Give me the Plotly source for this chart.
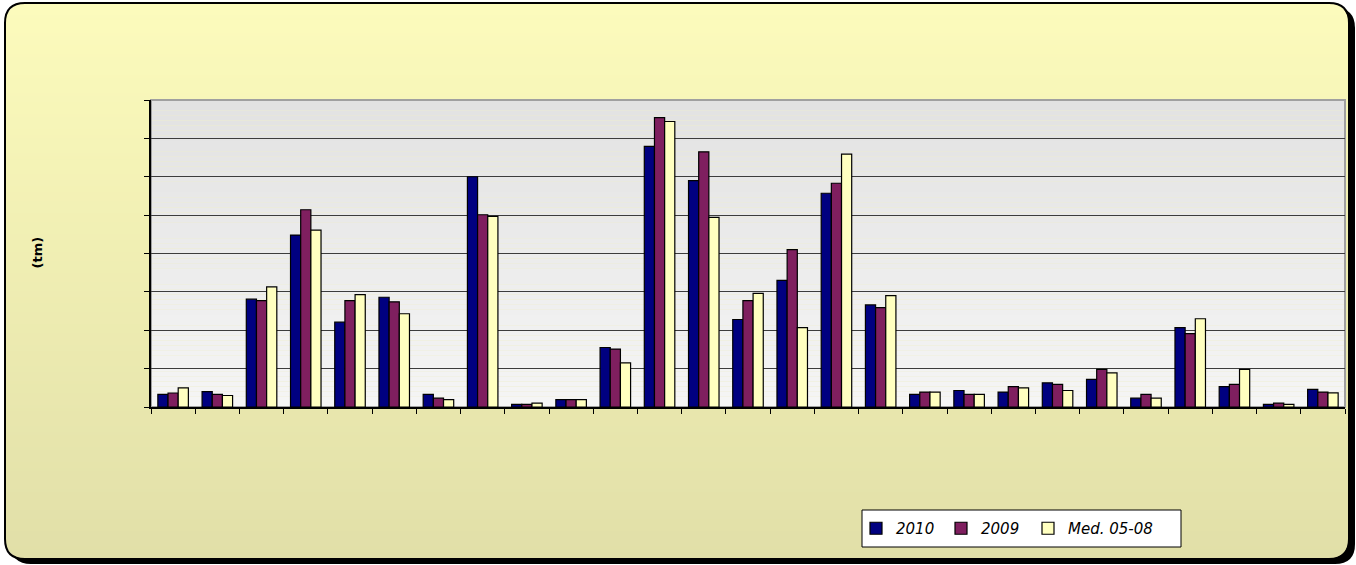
import math
import plotly.graph_objects as go

# ---------------- data ----------------
categories = [str(i) for i in range(1, 28)]
series_names = ["2010", "2009", "Med. 05-08"]
v2010 = [0.33, 0.40, 2.81, 4.48, 2.21, 2.86, 0.33, 6.00, 0.07, 0.19, 1.55, 6.79, 5.90, 2.28,
         3.30, 5.57, 2.66, 0.33, 0.43, 0.39, 0.63, 0.72, 0.23, 2.07, 0.53, 0.07, 0.46]
v2009 = [0.365, 0.33, 2.77, 5.14, 2.77, 2.74, 0.23, 5.01, 0.07, 0.19, 1.51, 7.54, 6.65, 2.77,
         4.10, 5.83, 2.59, 0.39, 0.33, 0.53, 0.59, 0.98, 0.33, 1.91, 0.59, 0.10, 0.39]
vmed = [0.50, 0.30, 3.13, 4.61, 2.93, 2.43, 0.19, 4.97, 0.10, 0.19, 1.15, 7.44, 4.94, 2.96,
        2.07, 6.59, 2.90, 0.39, 0.33, 0.50, 0.43, 0.89, 0.23, 2.30, 0.98, 0.07, 0.37]
y_ticks = [0, 1, 2, 3, 4, 5, 6, 7, 8]
y_title = "(tm)"

# ---------------- layout helpers ----------------
W, H = 1356, 565
PX0, PX1, PY0, PY1 = 151, 1345, 100, 407  # plot area in pixels


def px(x):
    return x / W


def py(y):
    return 1 - y / H


def lerp_col(c0, c1, t):
    return "rgb(%d,%d,%d)" % tuple(round(a + (b - a) * t) for a, b in zip(c0, c1))


def round_rect_path(x0, y0, x1, y1, r):
    pts = [
        f"M{px(x0 + r)},{py(y0)}",
        f"L{px(x1 - r)},{py(y0)}",
        f"Q{px(x1)},{py(y0)} {px(x1)},{py(y0 + r)}",
        f"L{px(x1)},{py(y1 - r)}",
        f"Q{px(x1)},{py(y1)} {px(x1 - r)},{py(y1)}",
        f"L{px(x0 + r)},{py(y1)}",
        f"Q{px(x0)},{py(y1)} {px(x0)},{py(y1 - r)}",
        f"L{px(x0)},{py(y0 + r)}",
        f"Q{px(x0)},{py(y0)} {px(x0 + r)},{py(y0)}",
        "Z",
    ]
    return " ".join(pts)


def x_extent(y, x0, y0, x1, y1, r):
    if y < y0 + r:
        d = (y0 + r) - y
    elif y > y1 - r:
        d = y - (y1 - r)
    else:
        return x0, x1
    d = min(d, r)
    off = r - math.sqrt(max(r * r - d * d, 0))
    return x0 + off, x1 - off


shapes = []
FX0, FY0, FX1, FY1, R = 5, 3, 1349, 559, 20

# shadow
shapes.append(dict(type="path", xref="paper", yref="paper", layer="below",
                   path=round_rect_path(FX0 + 6, FY0 + 5, FX1 + 6, FY1 + 5, R),
                   fillcolor="black", line=dict(width=0)))

# background gradient bands clipped to rounded rect
top_c, bot_c = (252, 251, 188), (225, 223, 168)
step = 3
y = FY0
while y < FY1:
    y2 = min(y + step, FY1)
    t = (y - FY0) / (FY1 - FY0)
    left, right = [], []
    yy = y
    while True:
        a, b = x_extent(yy, FX0, FY0, FX1, FY1, R)
        left.append((a, yy))
        right.append((b, yy))
        if yy >= y2:
            break
        yy = min(yy + 1, y2)
    poly = left + right[::-1]
    path = "M" + " L".join(f"{px(a)},{py(b)}" for a, b in poly) + " Z"
    shapes.append(dict(type="path", xref="paper", yref="paper", layer="below",
                       path=path, fillcolor=lerp_col(top_c, bot_c, t),
                       line=dict(width=0)))
    y = y2

# frame border
shapes.append(dict(type="path", xref="paper", yref="paper", layer="below",
                   path=round_rect_path(FX0, FY0, FX1, FY1, R),
                   fillcolor="rgba(0,0,0,0)", line=dict(color="black", width=2)))

# plot area gradient
p_top, p_bot = (226, 226, 226), (245, 245, 245)
nb = 60
for i in range(nb):
    ya = PY0 + (PY1 - PY0) * i / nb
    yb = PY0 + (PY1 - PY0) * (i + 1) / nb
    shapes.append(dict(type="rect", xref="paper", yref="paper", layer="below",
                       x0=px(PX0), x1=px(PX1), y0=py(yb), y1=py(ya),
                       fillcolor=lerp_col(p_top, p_bot, i / (nb - 1)),
                       line=dict(width=0)))
shapes.append(dict(type="rect", xref="paper", yref="paper", layer="below",
                   x0=px(PX0), x1=px(PX1), y0=py(PY1), y1=py(PY0),
                   fillcolor="rgba(0,0,0,0)", line=dict(color="#a0a0a0", width=2)))

# legend box
LX0, LY0, LX1, LY1 = 862, 510, 1181, 547
shapes.append(dict(type="rect", xref="paper", yref="paper", layer="above",
                   x0=px(LX0), x1=px(LX1), y0=py(LY1), y1=py(LY0),
                   fillcolor="white", line=dict(color="black", width=1)))

# ---------------- figure ----------------
fig = go.Figure()
colors = ["#000080", "#7f1f5f", "#ffffc0"]
legend_ids = ["legend", "legend2", "legend3"]
for name, vals, col, lid in zip(series_names, [v2010, v2009, vmed], colors, legend_ids):
    fig.add_trace(go.Bar(x=categories, y=vals, name=name, legend=lid,
                         marker=dict(color=col, line=dict(color="black", width=1.2))))

leg_font = dict(family="DejaVu Sans", size=15, color="black", style="italic")
leg_common = dict(orientation="h", y=py((LY0 + LY1) / 2), xanchor="left", yanchor="middle",
                  bgcolor="rgba(0,0,0,0)", borderwidth=0, font=leg_font)

fig.update_layout(
    width=W, height=H,
    margin=dict(l=0, r=0, t=0, b=0),
    paper_bgcolor="rgba(0,0,0,0)",
    plot_bgcolor="rgba(0,0,0,0)",
    barmode="group", bargap=0.31, bargroupgap=0,
    shapes=shapes,
    showlegend=True,
    legend=dict(x=px(856), **leg_common),
    legend2=dict(x=px(941), **leg_common),
    legend3=dict(x=px(1028), **leg_common),
    xaxis=dict(domain=[px(PX0), px(PX1)], showticklabels=False, ticks="outside",
               tickson="boundaries", ticklen=5, tickcolor="black", tickwidth=1,
               showline=True, linecolor="black", linewidth=1.5, showgrid=False,
               zeroline=False),
    yaxis=dict(domain=[py(PY1), py(PY0)], range=[0, 8], tickvals=y_ticks,
               showticklabels=False, ticks="outside", ticklen=5, tickcolor="black",
               showline=True, linecolor="black", linewidth=1.5,
               showgrid=True, gridcolor="#3c3c3c", gridwidth=1, zeroline=False),
    annotations=[dict(text="<b>" + y_title + "</b>", xref="paper", yref="paper",
                      x=px(27), y=py(253), showarrow=False, textangle=-90,
                      font=dict(family="DejaVu Sans", size=13, color="black"))],
)

fig.write_html("out.html", config={"displayModeBar": False},
               post_script="document.body.style.margin='0';document.body.style.overflow='hidden';")
